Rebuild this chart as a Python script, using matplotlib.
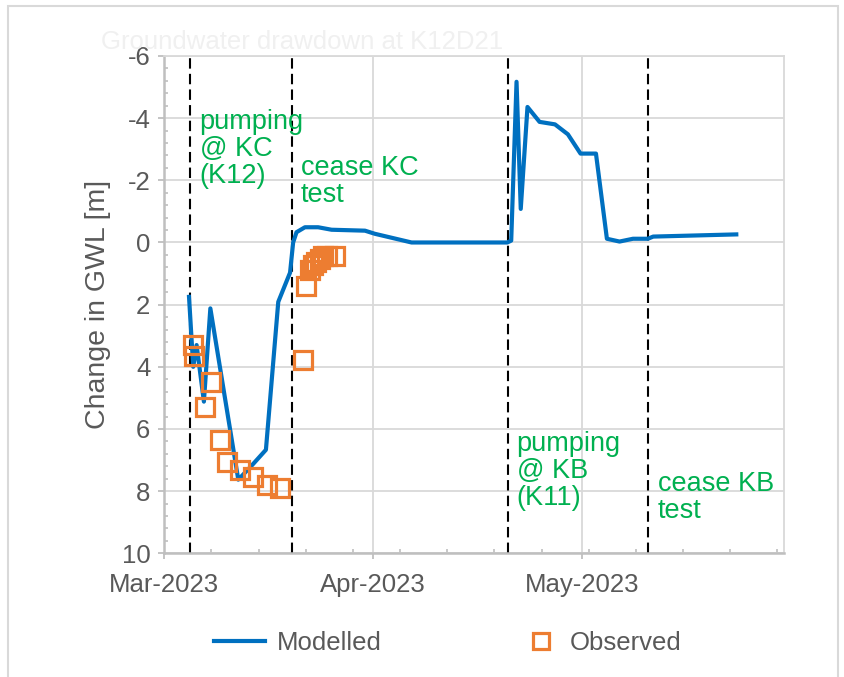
import numpy as np
import pandas as pd
import matplotlib
matplotlib.use('Agg')
import matplotlib.pyplot as plt
import matplotlib.dates as mdates
from matplotlib.patches import Rectangle

# modelled drawdown (m, positive = down)
model_time = ['2023-03-04 16:00', '2023-03-05 07:00', '2023-03-05 19:00', '2023-03-06 21:00',
              '2023-03-07 20:00', '2023-03-11 23:30', '2023-03-13 17:00', '2023-03-16 02:00',
              '2023-03-17 22:00', '2023-03-19 16:00', '2023-03-20 03:00', '2023-03-20 15:00',
              '2023-03-21 21:00', '2023-03-23 20:00', '2023-03-25 20:00', '2023-03-30 19:00',
              '2023-04-01 06:00', '2023-04-06 17:00', '2023-04-20 22:00', '2023-04-21 12:00',
              '2023-04-22 07:00', '2023-04-22 22:00', '2023-04-23 22:00', '2023-04-25 17:00',
              '2023-04-28 00:00', '2023-04-29 22:00', '2023-05-01 19:00', '2023-05-04 02:00',
              '2023-05-05 17:00', '2023-05-07 14:00', '2023-05-09 14:00', '2023-05-11 19:00',
              '2023-05-12 14:00', '2023-05-24 22:00']
model_dd = [1.75, 4.0, 3.3, 5.12, 2.12, 7.63, 7.24, 6.67, 1.91, 0.97, 0.0, -0.33,
            -0.49, -0.49, -0.41, -0.38, -0.28, 0.0, 0.0, -0.06, -5.17, -1.08, -4.36,
            -3.88, -3.80, -3.48, -2.86, -2.86, -0.12, -0.03, -0.12, -0.12, -0.19, -0.26]

# observed drawdown
obs_time = ['2023-03-05 05:00', '2023-03-05 11:00', '2023-03-07 01:00', '2023-03-07 22:00',
            '2023-03-09 06:00', '2023-03-10 08:00', '2023-03-12 06:00', '2023-03-14 03:00',
            '2023-03-16 07:00', '2023-03-18 04:00', '2023-03-21 15:00', '2023-03-22 02:00',
            '2023-03-22 14:00', '2023-03-23 02:00', '2023-03-23 14:00', '2023-03-24 02:00',
            '2023-03-24 14:00', '2023-03-25 02:00', '2023-03-26 07:00']
obs_dd = [3.30, 3.65, 5.28, 4.48, 6.37, 7.06, 7.33, 7.54, 7.79, 7.89, 3.78,
          1.41, 0.90, 0.74, 0.63, 0.52, 0.45, 0.42, 0.42]

# test events
event_time = ['2023-03-04 19:00', '2023-03-20 00:00', '2023-04-21 00:00', '2023-05-11 19:00']
event_text = ['pumping\n@ KC\n(K12)', 'cease KC\ntest', 'pumping\n@ KB\n(K11)', 'cease KB\ntest']
text_time = ['2023-03-06 06:00', '2023-03-21 07:00', '2023-04-22 07:00', '2023-05-13 06:00']
text_y = [-4.3, -2.8, 6.05, 7.35]

plt.rcParams['font.family'] = ['Liberation Sans', 'DejaVu Sans']
plt.rcParams['axes.unicode_minus'] = False

grey = '#595959'
grid_c = '#d9d9d9'
green = '#00B050'

fig = plt.figure(figsize=(8.44, 6.77), dpi=100)
fig.patches.append(Rectangle((8 / 844, -0.01), 830 / 844, 1.01 - 6 / 677,
                             transform=fig.transFigure, fill=False,
                             edgecolor=grid_c, lw=1.5))
ax = fig.add_axes([0.1947, 0.1827, 0.7342, 0.7346])

mt = pd.to_datetime(model_time)
ot = pd.to_datetime(obs_time)

for t in pd.to_datetime(event_time):
    ax.axvline(t, color='black', lw=1.5, ls=(0, (5, 2.5)), zorder=2)

l1, = ax.plot(mt, model_dd, color='#0070C0', lw=3, zorder=3, solid_joinstyle='round')
l2, = ax.plot(ot, obs_dd, ls='none', marker='s', ms=13, mfc='none',
              mec='#ED7D31', mew=2.3, zorder=4)

for s, t, y in zip(event_text, pd.to_datetime(text_time), text_y):
    ax.text(t, y, s, color=green, fontsize=19.5, ha='left', va='top', linespacing=1.05)

ax.set_ylim(10, -6)
ax.set_yticks(np.arange(-6, 11, 2))
ax.set_yticks(np.arange(-6, 10.01, 0.4), minor=True)
ax.set_xlim(pd.Timestamp('2023-03-01'), pd.Timestamp('2023-06-01'))
ax.set_xticks(pd.to_datetime(['2023-03-01', '2023-04-01', '2023-05-02']))
ax.xaxis.set_major_formatter(mdates.DateFormatter('%b-%Y'))
ax.set_xticks(pd.date_range('2023-03-01', '2023-06-01', freq='7D'), minor=True)

ax.grid(True, which='major', color=grid_c, lw=1.3, zorder=0)
ax.set_axisbelow(True)
for side in ['left', 'bottom']:
    ax.spines[side].set_color('#bfbfbf')
    ax.spines[side].set_linewidth(1.8)
for side in ['top', 'right']:
    ax.spines[side].set_color(grid_c)
    ax.spines[side].set_linewidth(1.3)

ax.tick_params(which='major', direction='out', length=4, width=1.3, color='#bfbfbf',
               labelsize=18.5, labelcolor=grey, pad=6)
ax.tick_params(which='minor', direction='in', length=3, width=1.2, color='#bfbfbf')
ax.tick_params(axis='x', which='major', pad=10)

ax.set_ylabel('Change in GWL [m]', fontsize=20.5, color=grey, labelpad=8)

fig.text(302 / 844, 1 - 42 / 677, 'Groundwater drawdown at K12D21', color='#f0f0f0',
         fontsize=18.5, ha='center', va='center')

leg1 = fig.legend([l1], ['Modelled'], loc='center',
                  bbox_to_anchor=(298 / 844, 1 - 643 / 677), frameon=False,
                  fontsize=18.5, handlelength=2.0, handletextpad=0.45,
                  labelcolor=grey)
leg2 = fig.legend([l2], ['Observed'], loc='center',
                  bbox_to_anchor=(605 / 844, 1 - 643 / 677), frameon=False,
                  fontsize=18.5, handlelength=1.0, handletextpad=0.6,
                  labelcolor=grey, markerscale=0.85)

fig.savefig('out.png', dpi=100)
